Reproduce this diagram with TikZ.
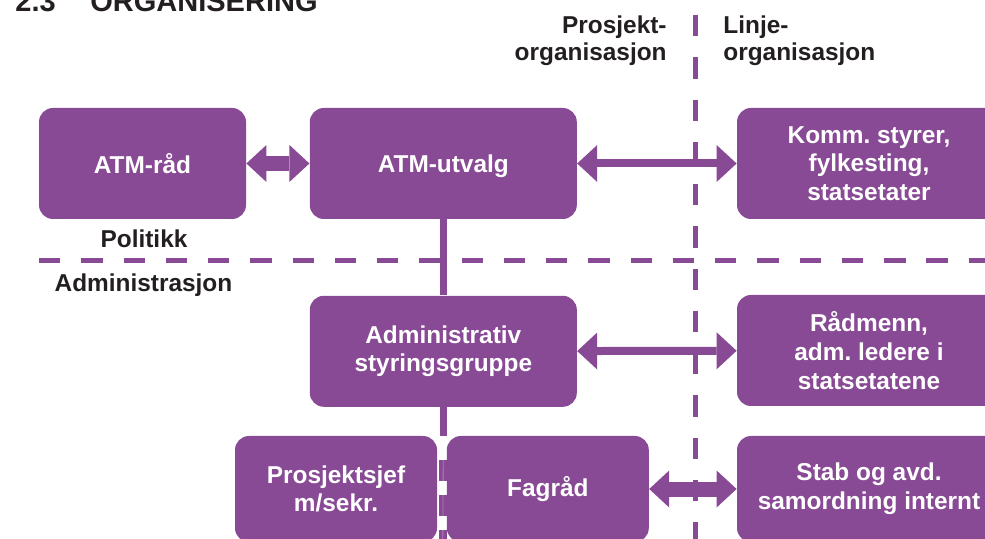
\documentclass[tikz,border=0pt]{standalone}
\usepackage{fontspec}
\setmainfont{Liberation Sans}
\usetikzlibrary{positioning, calc, arrows.meta}
\definecolor{atmlilla}{RGB}{136,74,148}
\definecolor{tekstgraa}{RGB}{35,31,32}
\frenchspacing

\begin{document}
\begin{tikzpicture}[x=0.5pt, y=-0.5pt,
    node font=\fontsize{12.2}{14.3}\selectfont\bfseries,
    boks/.style={fill=atmlilla, text=white, rounded corners=7pt, align=center, inner sep=0pt, minimum height=55.5pt},
    etikett/.style={text=tekstgraa, inner sep=0pt, anchor=base},
    dobbelpil/.style={atmlilla, line width=4pt, >={Triangle[length=10pt, width=18.5pt, line width=0pt]}, <->},
    kortpil/.style={dobbelpil, line width=7.5pt},
    skille/.style={atmlilla, line width=2.5pt, dash pattern=on 10.65pt off 10.48pt},
    stamme/.style={atmlilla, line width=3.7pt}]
                        \useasboundingbox (0,0) rectangle (985,539);
                        % tittel
                        \node[etikett, anchor=base west, font=\fontsize{14.5}{17}\selectfont\bfseries] (nr) at (15,11.5) {2.3};
                        \node[etikett, anchor=base west, font=\fontsize{14.5}{17}\selectfont\bfseries] (tittel) at (90,11.5) {ORGANISERING};
                        % skillelinjer
                        \coordinate (venstre) at (39,260.5);
                        \coordinate (hoyre) at (985,260.5);
                        \coordinate (topp) at (695,15);
                        \coordinate (bunn) at (695,539);
                        \draw[skille] (venstre) -- (hoyre);
                        \draw[skille] (topp) -- (bunn);
                        \node[etikett, anchor=base east] (prosjekt) at (667,33.5) {Prosjekt-};
                        \node[etikett, anchor=base east] (prosjektorg) at (667,61) {organisasjon};
                        \node[etikett, anchor=base west] (linje) at (723,33.5) {Linje-};
                        \node[etikett, anchor=base west] (linjeorg) at (723,61) {organisasjon};
                        \node[etikett] (politikk) at (144,248) {Politikk};
                        \node[etikett] (administrasjon) at (143.5,291.5) {Administrasjon};
                        % prosjektorganisasjon
                        \node[boks, minimum width=103.5pt] (atmraad) at (142.5,163.5) {ATM-råd};
                        \node[boks, minimum width=133.5pt, text depth=0pt, right=31.5pt of atmraad] (atmutvalg) {ATM-utvalg};
                        \node[boks, minimum width=133.5pt, below=38pt of atmutvalg] (adm) {Administrativ\\styringsgruppe};
                        \node[boks, minimum width=101pt, minimum height=53pt] (prosjsjef) at (336,489) {Prosjektsjef\\m/sekr.};
                        \node[boks, minimum width=101pt, minimum height=53pt, right=4.5pt of prosjsjef] (fagraad) {Fagråd};
                        % linjeorganisasjon
                        \node[boks, minimum width=132pt] (komm) at (869,163.5) {Komm. styrer,\\fylkesting,\\statsetater};
                        \node[boks, minimum width=132pt] (raadmenn) at (869,350.5) {Rådmenn,\\adm. ledere i\\statsetatene};
                        \node[boks, minimum width=132pt, minimum height=53pt] (stab) at (869,489) {Stab og avd.\\samordning internt};
                        % forbindelser
                        \coordinate (gaptopp) at (adm.south |- prosjsjef.north);
                        \coordinate (gapstart) at ($(gaptopp)+(-0.5,24)$);
                        \coordinate (gapslutt) at ($(gaptopp)+(-0.5,110)$);
                        \draw[stamme] (atmutvalg.south) -- (adm.north);
                        \draw[stamme] (adm.south) -- (gaptopp);
                        \draw[atmlilla, line width=4pt, dash pattern=on 10.5pt off 7pt] (gapstart) -- (gapslutt);
                        \draw[white, opacity=.3, line width=.4pt] (gaptopp) -- (gapslutt);
                        \draw[kortpil] (atmraad) -- (atmutvalg);
                        \draw[dobbelpil] (atmutvalg) -- (komm);
                        \draw[dobbelpil] (adm) -- (raadmenn);
                        \draw[kortpil] (fagraad) -- (stab);
                    \end{tikzpicture}
\end{document}
